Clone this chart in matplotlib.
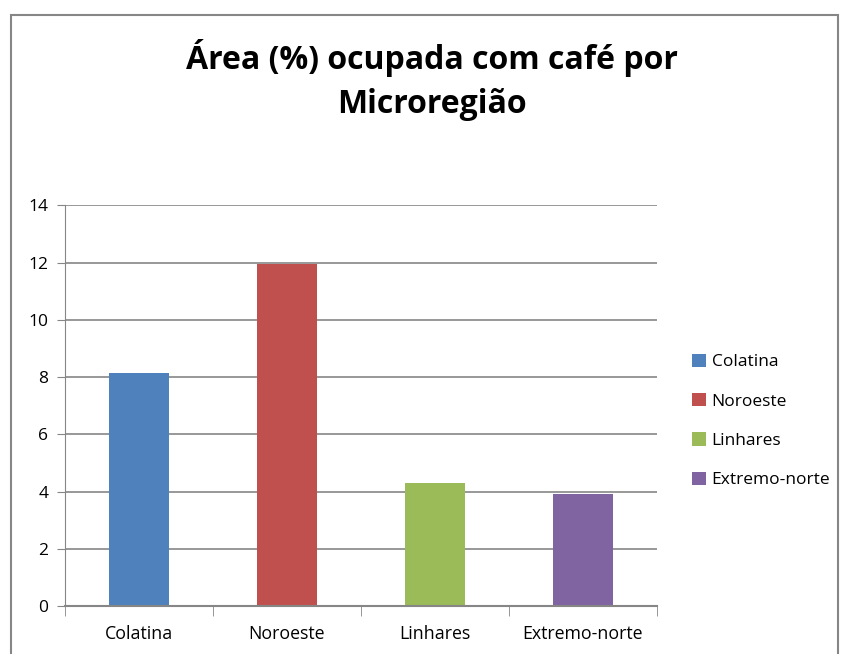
import matplotlib
matplotlib.use("Agg")
import matplotlib.pyplot as plt
from matplotlib.patches import Rectangle, Patch

categories = ["Colatina", "Noroeste", "Linhares", "Extremo-norte"]
values = [8.15, 11.95, 4.3, 3.9]
colors = ["#4F81BD", "#C0504D", "#9BBB59", "#8064A2"]
yticks = [0, 2, 4, 6, 8, 10, 12, 14]
title = "Área (%) ocupada com café por\nMicroregião"

W, H = 843, 654
fig = plt.figure(figsize=(W / 100, H / 100), dpi=100)
fig.patch.set_facecolor("white")

# outer chart border
fig.add_artist(Rectangle((11 / W, -0.05), (838 - 11) / W, 1.05 - 15 / H,
                         transform=fig.transFigure, fill=False,
                         edgecolor="#868686", linewidth=1.5))

ax = fig.add_axes([65 / W, 1 - 606 / H, (657 - 65) / W, (606 - 205.5) / H])
x = list(range(len(categories)))
ax.bar(x, values, width=0.4, color=colors, zorder=3)
ax.set_xlim(-0.5, len(categories) - 0.5)
ax.set_ylim(0, 14)
ax.set_yticks(yticks)
ax.set_yticklabels([str(t) for t in yticks], fontsize=12.5, family="Open Sans")
ax.set_xticks(x)
ax.set_xticklabels(categories, fontsize=12.8, family="Open Sans")
ax.tick_params(axis="x", length=0, pad=14)
ax.tick_params(axis="y", length=6, color="#868686", pad=6)
# x category separators
ax.set_xticks([i - 0.5 for i in range(len(categories) + 1)], minor=True)
ax.tick_params(axis="x", which="minor", length=7, color="#868686", direction="out")
ax.grid(axis="y", color="#868686", linewidth=1.2, zorder=0)
for s in ["top", "right"]:
    ax.spines[s].set_visible(False)
ax.spines["left"].set_color("#868686")
ax.spines["bottom"].set_color("#868686")
ax.spines["bottom"].set_linewidth(1.5)
ax.spines["bottom"].set_zorder(4)

fig.text(432 / W, 1 - 80 / H, title, ha="center", va="center",
         fontsize=23, fontweight="bold", family="Open Sans", linespacing=1.45)

handles = [Patch(facecolor=c, edgecolor="none") for c in colors]
leg = fig.legend(handles, categories, loc="center left",
                 bbox_to_anchor=(676 / W, 1 - 421 / H), frameon=False,
                 prop={"family": "Open Sans", "size": 12.5},
                 handlelength=0.8, handleheight=0.8, handletextpad=0.35,
                 labelspacing=1.3)

fig.savefig("out.png", dpi=100)
